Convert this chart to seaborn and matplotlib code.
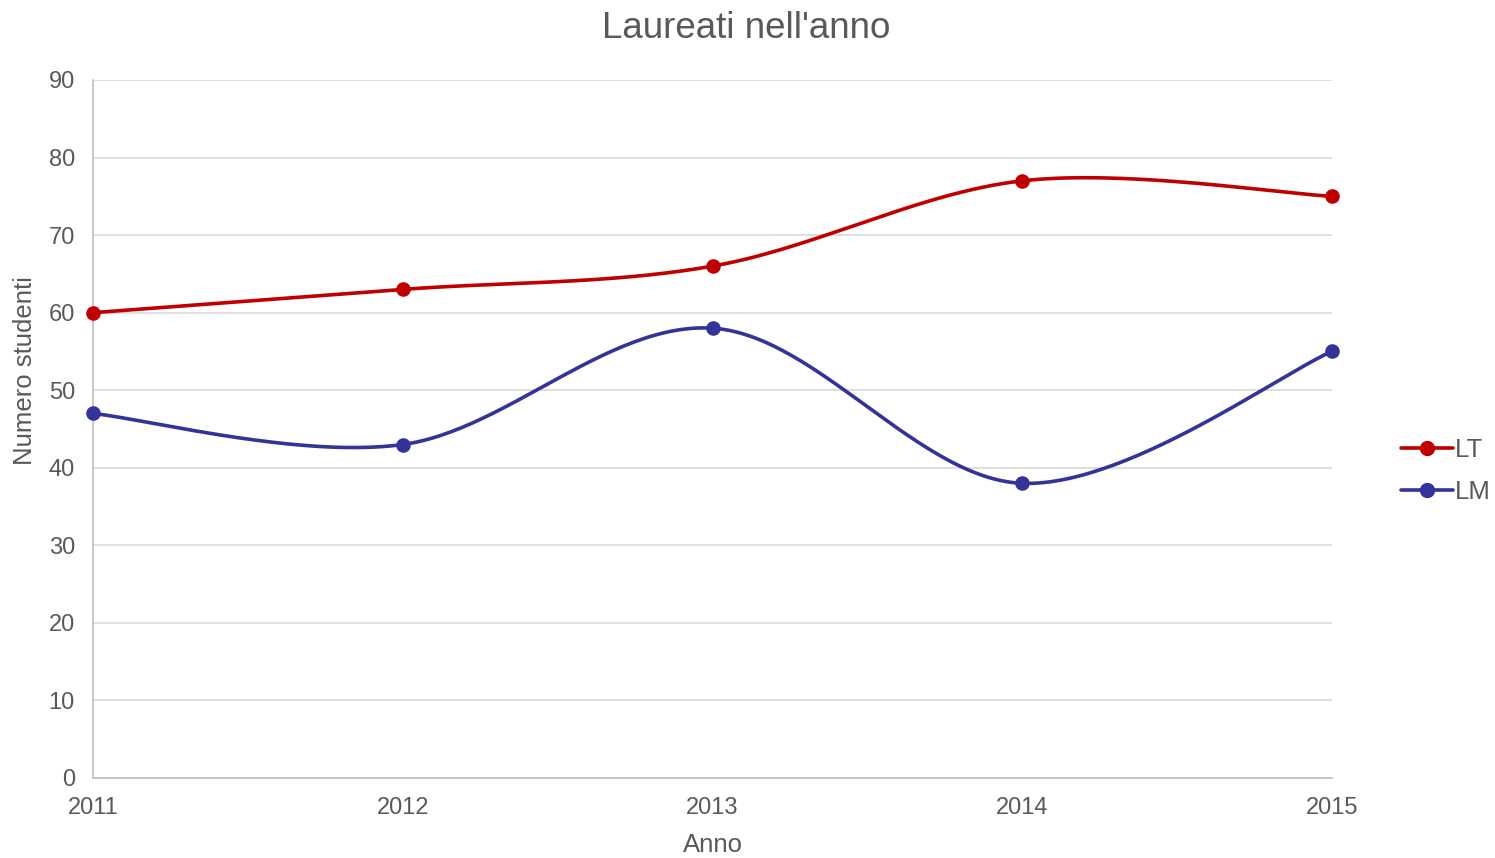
import numpy as np
import pandas as pd
import matplotlib
matplotlib.use("Agg")
import matplotlib.pyplot as plt
import seaborn as sns
from matplotlib.lines import Line2D

years = [2011, 2012, 2013, 2014, 2015]
lt_values = [60, 63, 66, 77, 75]
lm_values = [47, 43, 58, 38, 55]
series_names = ["LT", "LM"]
y_ticks = [0, 10, 20, 30, 40, 50, 60, 70, 80, 90]

colors = {"LT": "#C00000", "LM": "#333399"}
text_color = "#595959"
grid_color = "#D9D9D9"


def smooth(xs, ys, n=60):
    # Catmull-Rom style smoothing (like Excel's smoothed lines)
    xs = np.asarray(xs, float)
    ys = np.asarray(ys, float)
    px = np.concatenate([[xs[0]], xs, [xs[-1]]])
    py = np.concatenate([[ys[0]], ys, [ys[-1]]])
    ox, oy = [], []
    for i in range(1, len(px) - 2):
        p0 = np.array([px[i - 1], py[i - 1]])
        p1 = np.array([px[i], py[i]])
        p2 = np.array([px[i + 1], py[i + 1]])
        p3 = np.array([px[i + 2], py[i + 2]])
        c1 = p1 + (p2 - p0) / 6.0
        c2 = p2 - (p3 - p1) / 6.0
        t = np.linspace(0, 1, n)[:, None]
        pts = ((1 - t) ** 3) * p1 + 3 * ((1 - t) ** 2) * t * c1 + 3 * (1 - t) * t ** 2 * c2 + t ** 3 * p2
        ox.extend(pts[:, 0])
        oy.extend(pts[:, 1])
    return np.array(ox), np.array(oy)


sns.set_theme(style="white")
plt.rcParams["font.family"] = ["Liberation Sans", "DejaVu Sans"]

fig = plt.figure(figsize=(14.95, 8.58), dpi=100)
ax = fig.add_axes([93 / 1495, 1 - 778 / 858, (1332 - 93) / 1495, (778 - 80) / 858])

df = pd.DataFrame({"Anno": years, "LT": lt_values, "LM": lm_values})
handles = []
for name in series_names:
    sx, sy = smooth(df["Anno"], df[name])
    sm = pd.DataFrame({"x": sx, "y": sy})
    sns.lineplot(data=sm, x="x", y="y", ax=ax, color=colors[name], linewidth=2.6,
                 sort=False, estimator=None, zorder=3)
    sns.scatterplot(data=df, x="Anno", y=name, ax=ax, color=colors[name], s=110,
                    edgecolor=colors[name], linewidth=0, zorder=4, clip_on=False)
    handles.append(Line2D([], [], color=colors[name], linewidth=2.6, marker="o",
                          markersize=10, label=name))

ax.set_xlim(2011, 2015)
ax.set_ylim(0, 90)
ax.set_xticks(years)
ax.set_xticklabels([str(y) for y in years])
ax.set_yticks(y_ticks)
ax.yaxis.grid(True, color=grid_color, linewidth=1.2)
ax.xaxis.grid(False)
ax.set_axisbelow(True)
for s in ["top", "right"]:
    ax.spines[s].set_visible(False)
for s in ["left", "bottom"]:
    ax.spines[s].set_color("#BFBFBF")
    ax.spines[s].set_linewidth(1.2)
ax.tick_params(axis="both", which="major", direction="out", length=6, width=1.2,
               color="#BFBFBF", labelcolor=text_color, labelsize=17, pad=7)
ax.tick_params(axis="x", pad=8)

ax.set_xlabel("")
ax.set_ylabel("")
fig.text(713 / 1495, 1 - 845 / 858, "Anno", fontsize=18.5, color=text_color,
         ha="center", va="center")
fig.text(25 / 1495, 1 - 371 / 858, "Numero studenti", fontsize=18.5, color=text_color,
         ha="center", va="center", rotation=90)
fig.text(746 / 1495, 1 - 29 / 858, "Laureati nell'anno", fontsize=26.5, color=text_color,
         ha="center", va="center")

leg = fig.legend(handles=handles, loc="center left", bbox_to_anchor=(1378 / 1495, 1 - 471 / 858),
                 frameon=False, fontsize=18.5, labelcolor=text_color, handlelength=2.0,
                 handletextpad=0.1, labelspacing=0.7)

fig.savefig("out.png", dpi=100)
